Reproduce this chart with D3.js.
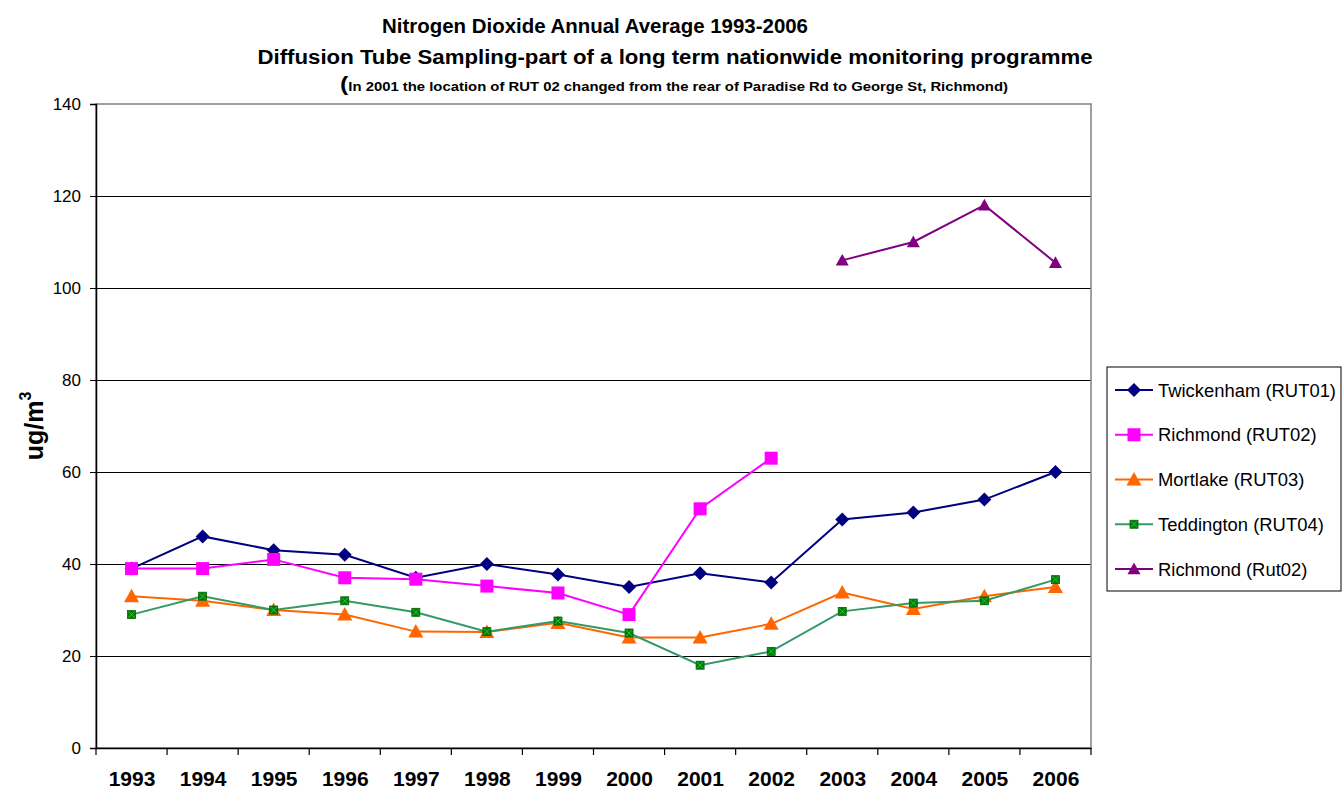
<!DOCTYPE html>
<html><head><meta charset="utf-8">
<script src="https://cdn.jsdelivr.net/npm/d3@7"></script>
<style>
body{margin:0;background:#fff;}
svg{display:block;font-family:"Liberation Sans",Arial,sans-serif;}
</style></head>
<body><svg id="c" width="1342" height="791"></svg>
<script>
const years = [1993,1994,1995,1996,1997,1998,1999,2000,2001,2002,2003,2004,2005,2006];
const twickenham = [39,46,43,42,37,40,37.7,35,38,36,49.7,51.2,54,60];
const richmond = [39,39,41,37,36.7,35.2,33.7,29,52,63,null,null,null,null];
const mortlake = [33,32,30,29,25.3,25.2,27.2,24,24,27,33.8,30.2,33,35];
const teddington = [29,33,30,32,29.5,25.3,27.6,25,18,21,29.7,31.5,32,36.6];
const richmondNew = [null,null,null,null,null,null,null,null,null,null,106,110,118,105.5];
const yTicks = [0,20,40,60,80,100,120,140];

const series = [
  {name:"Twickenham (RUT01)", values:twickenham, color:"#000080", marker:"diamond", fill:"#000080"},
  {name:"Richmond (RUT02)", values:richmond, color:"#FF00FF", marker:"square", fill:"#FF00FF"},
  {name:"Mortlake (RUT03)", values:mortlake, color:"#FF6600", marker:"triangle", big:true, fill:"#FF6600"},
  {name:"Teddington (RUT04)", values:teddington, color:"#339966", marker:"smallsq", fill:"#008000"},
  {name:"Richmond (Rut02)", values:richmondNew, color:"#800080", marker:"triangle", big:false, fill:"#800080"}
];

const svg = d3.select("#c");
const L=96, R=1091, T=104, B=748;
const xb = d3.scaleBand().domain(years).range([L,R]);
const x = d3.scalePoint().domain(years).range([L,R]).padding(0.5);
const y = d3.scaleLinear().domain([0,140]).range([B,T]);

// gridlines
svg.append("g").selectAll("line").data(yTicks.filter(d=>d>0&&d<140)).join("line")
  .attr("x1",L).attr("x2",R).attr("y1",d=>y(d)).attr("y2",d=>y(d))
  .attr("stroke","#000").attr("stroke-width",1).attr("shape-rendering","crispEdges");
// plot border
svg.append("rect").attr("x",L).attr("y",T).attr("width",R-L).attr("height",B-T)
  .attr("fill","none").attr("stroke","#808080").attr("stroke-width",1.5);

// y axis
const ya = svg.append("g").attr("transform",`translate(${L},0)`)
  .call(d3.axisLeft(y).tickValues(yTicks).tickSize(6).tickPadding(9));
ya.select(".domain").attr("stroke","#000").attr("stroke-width",1.5);
ya.selectAll("text").attr("font-size",17).attr("font-family","Liberation Sans, Arial, sans-serif").attr("fill","#000");

// x axis
const xa = svg.append("g").attr("transform",`translate(0,${B})`)
  .call(d3.axisBottom(x).tickSize(0).tickPadding(23));
xa.select(".domain").attr("stroke","#000").attr("stroke-width",1.5);
xa.selectAll("text").attr("font-size",21).attr("font-weight","bold").attr("font-family","Liberation Sans, Arial, sans-serif").attr("fill","#000");
const bounds = years.map(d=>xb(d)).concat([xb(years[years.length-1])+xb.bandwidth()]);
svg.append("g").selectAll("line").data(bounds).join("line")
  .attr("x1",d=>d).attr("x2",d=>d).attr("y1",B).attr("y2",B+7)
  .attr("stroke","#000").attr("stroke-width",1.2);

function drawMarker(g,s,cx,cy){
  const gg = g.append("g").attr("transform",`translate(${cx},${cy})`);
  if(s.marker==="diamond"){
    const r=7;
    gg.append("path").attr("d",`M0,${-r}L${r},0L0,${r}L${-r},0Z`).attr("fill",s.fill);
  } else if(s.marker==="triangle"){
    const r = s.big?7.5:6.5;
    gg.append("path").attr("d",`M0,${-r}L${r},${r*0.8}L${-r},${r*0.8}Z`).attr("fill",s.fill);
  } else if(s.marker==="square"){
    gg.append("rect").attr("x",-6.5).attr("y",-6.5).attr("width",13).attr("height",13).attr("fill",s.fill);
  } else {
    gg.append("rect").attr("x",-4).attr("y",-4).attr("width",8).attr("height",8).attr("fill",s.fill).attr("stroke","#006400").attr("stroke-width",0.8);
    gg.append("path").attr("d","M-3,-3L3,3M3,-3L-3,3").attr("stroke","#33cc66").attr("stroke-width",0.8);
  }
}

const line = d3.line().defined(d=>d.v!=null).x(d=>x(d.yr)).y(d=>y(d.v));
series.forEach(s=>{
  const pts = years.map((yr,i)=>({yr, v:s.values[i]}));
  svg.append("path").datum(pts).attr("d",line).attr("fill","none").attr("stroke",s.color).attr("stroke-width",2);
  const g = svg.append("g");
  pts.filter(p=>p.v!=null).forEach(p=>drawMarker(g,s,x(p.yr),y(p.v)));
});

// legend
const lg = svg.append("g");
lg.append("rect").attr("x",1107).attr("y",367).attr("width",234).attr("height",224).attr("fill","#fff").attr("stroke","#000").attr("stroke-width",1);
const ly = d3.scalePoint().domain(series.map(s=>s.name)).range([390,569]);
let stretch = null;
series.forEach(s=>{
  const yy = ly(s.name);
  lg.append("line").attr("x1",1115).attr("x2",1153).attr("y1",yy).attr("y2",yy).attr("stroke",s.color).attr("stroke-width",2);
  drawMarker(lg,s,1134,yy);
  const t = lg.append("text").attr("x",1158).attr("y",yy+6.5).attr("font-size",18).attr("fill","#000").text(s.name);
  const w = t.node().getComputedTextLength();
  if(stretch===null) stretch = 178/w;
  t.attr("textLength",w*stretch).attr("lengthAdjust","spacingAndGlyphs");
});

// titles
svg.append("text").attr("x",595).attr("y",33).attr("text-anchor","middle").attr("font-size",21).attr("font-weight","bold")
  .attr("textLength",426).attr("lengthAdjust","spacingAndGlyphs").text("Nitrogen Dioxide Annual Average 1993-2006");
svg.append("text").attr("x",675).attr("y",64).attr("text-anchor","middle").attr("font-size",20).attr("font-weight","bold")
  .attr("textLength",835).attr("lengthAdjust","spacingAndGlyphs").text("Diffusion Tube Sampling-part of a long term nationwide monitoring programme");
const t3 = svg.append("text").attr("x",674).attr("y",91).attr("text-anchor","middle").attr("font-weight","bold")
  .attr("textLength",668).attr("lengthAdjust","spacingAndGlyphs");
t3.append("tspan").attr("font-size",21).text("(");
t3.append("tspan").attr("font-size",12.5).text("In 2001 the location of RUT 02 changed from the rear of Paradise Rd to George St, Richmond)");

// y label
const yl = svg.append("text").attr("transform","translate(43,426) rotate(-90)").attr("text-anchor","middle").attr("font-size",25).attr("font-weight","bold");
yl.append("tspan").text("ug/m");
yl.append("tspan").attr("font-size",16).attr("dy",-12).text("3");
</script></body></html>
